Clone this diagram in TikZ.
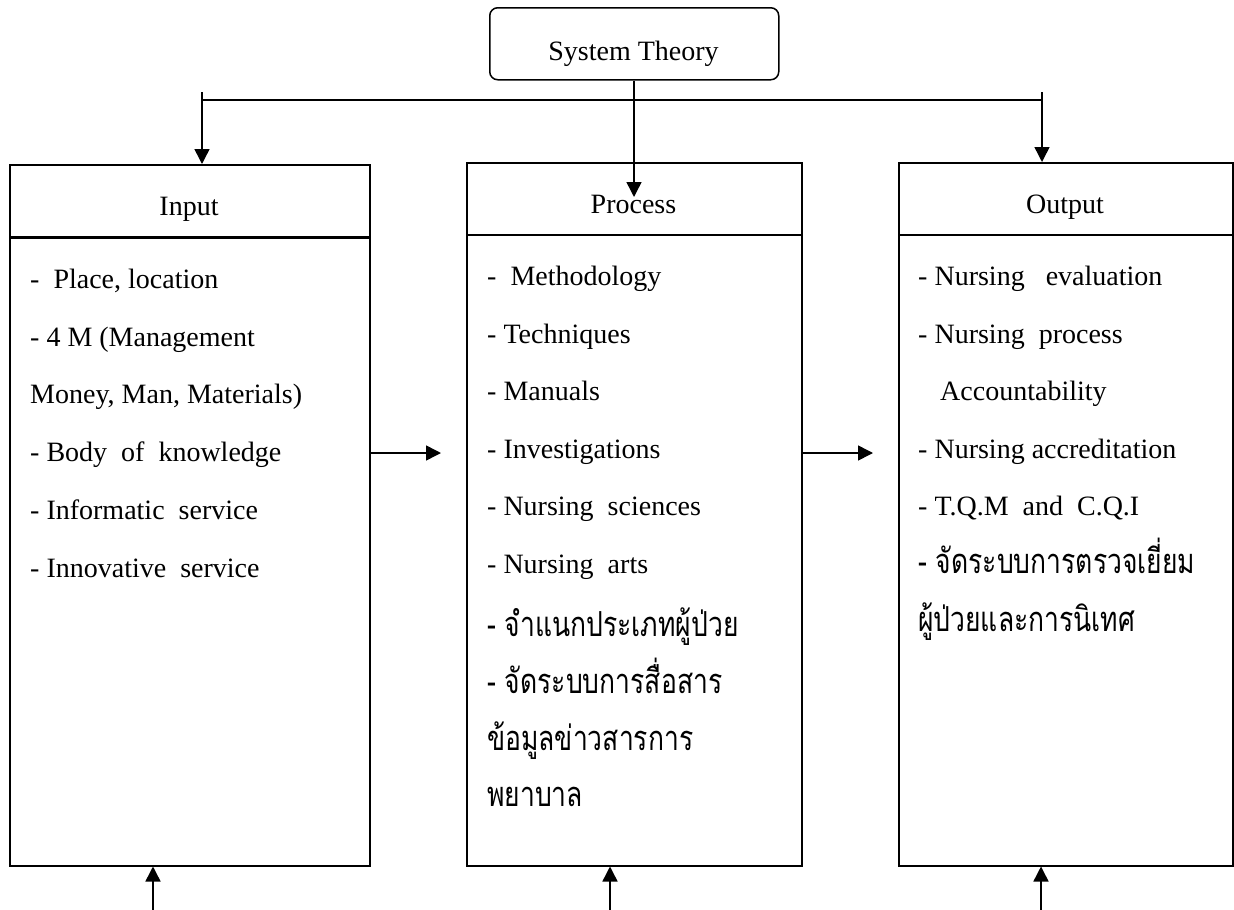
\documentclass[tikz,border=0pt]{standalone}
\usepackage{graphicx}
\usepackage{fontspec}
\setmainfont{Liberation Serif}
\newfontfamily\thaifont[Script=Thai]{Loma}
\newcommand\thx[1]{\scalebox{1}[1.3]{\thaifont\fontsize{26.5}{32}\selectfont #1}}
\usetikzlibrary{arrows.meta}
\begin{document}
\begin{tikzpicture}[x=1pt,y=-1pt,
  box/.style={draw,line width=1.5pt,inner sep=0pt,anchor=north west},
  hd/.style={font=\fontsize{28}{34}\selectfont,anchor=base,inner sep=0pt},
  li/.style={font=\fontsize{28}{34}\selectfont,anchor=base west,inner sep=0pt},
  th/.style={anchor=base west,inner sep=0pt},
  arr/.style={line width=1.5pt,-{Triangle[length=15pt,width=15pt]}},
  ln/.style={line width=1.5pt}]
\useasboundingbox (0,0) rectangle (1234,910);
% top box
\node[box,rounded corners=8pt,minimum width=289pt,minimum height=72pt] (sys) at (489,7) {};
\node[hd] (syst) at (633.5,60) {System Theory};
% boxes
\node[box,minimum width=360pt,minimum height=72pt] (inH) at (9,164) {};
\node[box,minimum width=360pt,minimum height=629pt] (inB) at (9,236) {};
\draw[line width=3pt] (inH.south west) -- (inH.south east);
\node[box,minimum width=335pt,minimum height=72pt] (prH) at (466,162) {};
\node[box,minimum width=335pt,minimum height=631pt] (prB) at (466,234) {};
\node[box,minimum width=334pt,minimum height=72pt] (ouH) at (898,162) {};
\node[box,minimum width=334pt,minimum height=631pt] (ouB) at (898,234) {};
% headers
\node[hd] (inT) at (189,215) {Input};
\node[hd] (prT) at (633.5,213) {Process};
\node[hd] (ouT) at (1065,213) {Output};
% input list
\node[li] (i1) at (30,288) {-\ \ Place, location};
\node[li] (i2) at (30,346) {- 4 M (Management};
\node[li] (i3) at (30,403) {Money, Man, Materials)};
\node[li] (i4) at (30,461) {- Body\ \ of\ \ knowledge};
\node[li] (i5) at (30,519) {- Informatic\ \ service};
\node[li] (i6) at (30,577) {- Innovative\ \ service};
% process list
\node[li] (p1) at (487,285) {-\ \ Methodology};
\node[li] (p2) at (487,343) {- Techniques};
\node[li] (p3) at (487,400) {- Manuals};
\node[li] (p4) at (487,458) {- Investigations};
\node[li] (p5) at (487,515) {- Nursing\ \ sciences};
\node[li] (p6) at (487,573) {- Nursing\ \ arts};
\node[th] (p7) at (487,636) {\thx{- จำแนกประเภทผู้ป่วย}};
\node[th] (p8) at (487,693) {\thx{- จัดระบบการสื่อสาร}};
\node[th] (p9) at (487,750) {\thx{ข้อมูลข่าวสารการ}};
\node[th] (p10) at (487,806) {\thx{พยาบาล}};
% output list
\node[li] (o1) at (918,285) {- Nursing\ \ \ evaluation};
\node[li] (o2) at (918,343) {- Nursing\ \ process};
\node[li] (o3) at (940,400) {Accountability};
\node[li] (o4) at (918,458) {- Nursing accreditation};
\node[li] (o5) at (918,515) {- T.Q.M\ \ and\ \ C.Q.I};
\node[th] (o6) at (918,573) {\thx{- จัดระบบการตรวจเยี่ยม}};
\node[th] (o7) at (918,631) {\thx{ผู้ป่วยและการนิเทศ}};
% connectors
\coordinate (hl) at (202,100);
\coordinate (hr) at (1042,100);
\coordinate (tl) at (202,92);
\coordinate (tr) at (1042,92);
\draw[ln] (hl) -- (hr);
\draw[arr] (tl) -- (tl |- inH.north);
\draw[arr] (tr) -- (tr |- ouH.north);
\coordinate (ptip) at (634,197);
\draw[arr] (sys.south -| ptip) -- (ptip);
\coordinate (a1) at (441,453);
\draw[arr] (a1 -| inB.east) -- (a1);
\coordinate (a2) at (873,453);
\draw[arr] (a2 -| prB.east) -- (a2);
\coordinate (b1) at (153,910);
\coordinate (b2) at (610,910);
\coordinate (b3) at (1041,910);
\draw[arr] (b1) -- (b1 |- inB.south);
\draw[arr] (b2) -- (b2 |- prB.south);
\draw[arr] (b3) -- (b3 |- ouB.south);
\end{tikzpicture}
\end{document}
